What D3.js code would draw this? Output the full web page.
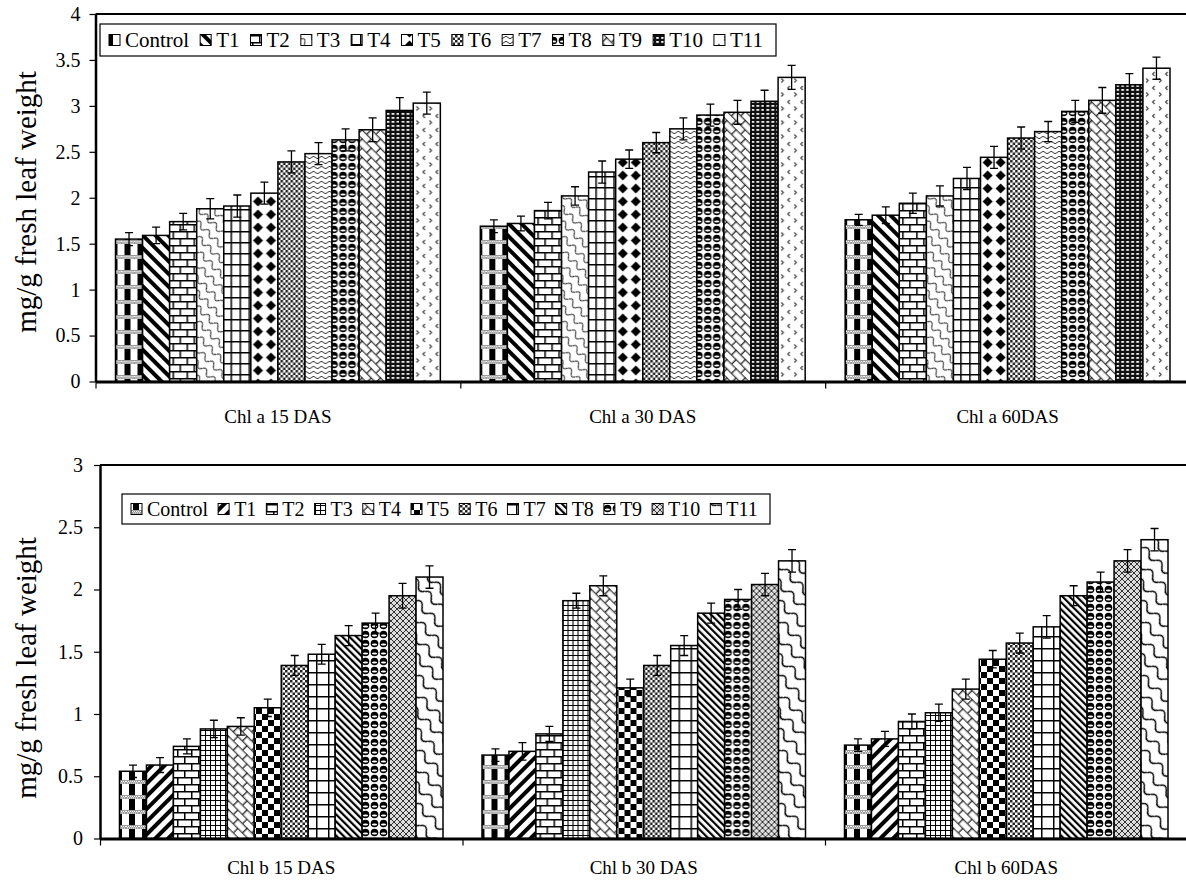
<!DOCTYPE html>
<html>
<head>
<meta charset="utf-8">
<script src="https://cdn.jsdelivr.net/npm/d3@7"></script>
<style>
    body { margin: 0; background: #fff; }
    svg text { font-family: "Liberation Serif", serif; fill: #000; }
</style>
</head>
<body>
<script>
// treatments (series) and groups
var treatments = ["Control", "T1", "T2", "T3", "T4", "T5", "T6", "T7", "T8", "T9", "T10", "T11"];

var chlaGroups = ["Chl a 15 DAS", "Chl a 30 DAS", "Chl a 60DAS"];
var chla15 = [1.55, 1.59, 1.74, 1.88, 1.91, 2.05, 2.39, 2.48, 2.63, 2.74, 2.95, 3.03];
var chla30 = [1.69, 1.72, 1.86, 2.02, 2.28, 2.42, 2.60, 2.75, 2.90, 2.93, 3.05, 3.31];
var chla60 = [1.76, 1.81, 1.94, 2.02, 2.21, 2.44, 2.65, 2.72, 2.94, 3.06, 3.23, 3.41];
var chla15Err = [0.07, 0.09, 0.09, 0.11, 0.12, 0.12, 0.12, 0.12, 0.12, 0.13, 0.14, 0.12];
var chla30Err = [0.07, 0.08, 0.09, 0.10, 0.12, 0.10, 0.11, 0.12, 0.12, 0.13, 0.12, 0.13];
var chla60Err = [0.06, 0.09, 0.11, 0.11, 0.12, 0.12, 0.12, 0.11, 0.12, 0.14, 0.12, 0.12];
var chlaTicks = [0, 0.5, 1, 1.5, 2, 2.5, 3, 3.5, 4];

var chlbGroups = ["Chl b 15 DAS", "Chl b 30 DAS", "Chl b 60DAS"];
var chlb15 = [0.54, 0.59, 0.74, 0.88, 0.90, 1.05, 1.39, 1.48, 1.63, 1.73, 1.95, 2.10];
var chlb30 = [0.67, 0.70, 0.84, 1.91, 2.03, 1.21, 1.39, 1.55, 1.81, 1.92, 2.04, 2.23];
var chlb60 = [0.75, 0.80, 0.94, 1.01, 1.20, 1.44, 1.57, 1.70, 1.95, 2.06, 2.23, 2.40];
var chlb15Err = [0.05, 0.06, 0.06, 0.07, 0.07, 0.07, 0.08, 0.08, 0.08, 0.08, 0.10, 0.09];
var chlb30Err = [0.05, 0.07, 0.06, 0.06, 0.08, 0.07, 0.08, 0.08, 0.08, 0.08, 0.09, 0.09];
var chlb60Err = [0.05, 0.06, 0.06, 0.07, 0.08, 0.07, 0.08, 0.09, 0.08, 0.08, 0.09, 0.09];
var chlbTicks = [0, 0.5, 1, 1.5, 2, 2.5, 3];

var yTitle = "mg/g fresh leaf weight";

// fill pattern per treatment
var chlaFills = ["plaid", "diagDown", "brick", "scales", "grid", "diamond", "checkSmall", "waves", "spheres", "trellis", "dotsDark", "confetti"];
var chlbFills = ["plaid", "diagUp", "brick", "gridFine", "trellis", "checker", "checkSmall", "gridLarge", "diagNarrow", "spheres", "crossFine", "scalesLarge"];

var FONT = "Liberation Serif, serif";

var svg = d3.select("body").append("svg")
    .attr("width", 1186)
    .attr("height", 881);

var defs = svg.append("defs");

function pattern(id, w, h, transform) {
    var p = defs.append("pattern")
        .attr("id", id)
        .attr("patternUnits", "userSpaceOnUse")
        .attr("width", w)
        .attr("height", h);
    if (transform) p.attr("patternTransform", transform);
    p.append("rect").attr("width", w).attr("height", h).attr("fill", "#fff");
    return p;
}

// --- patterns ---
var p;
p = pattern("plaid", 13, 15);
p.append("rect").attr("x", 3).attr("width", 6).attr("height", 15).attr("fill", "#000");
p.append("rect").attr("y", 0).attr("width", 13).attr("height", 4).attr("fill", "#9a9a9a");
for (var i = 0; i < 13; i += 2) {
    p.append("rect").attr("x", i).attr("y", 1).attr("width", 1).attr("height", 1).attr("fill", "#fff");
    p.append("rect").attr("x", i + 1).attr("y", 2.5).attr("width", 1).attr("height", 1).attr("fill", "#fff");
}

p = pattern("diagDown", 9, 9, "rotate(-45)");
p.append("rect").attr("width", 4).attr("height", 9).attr("fill", "#000");

p = pattern("diagUp", 9, 9, "rotate(45)");
p.append("rect").attr("width", 4).attr("height", 9).attr("fill", "#000");

p = pattern("diagNarrow", 5, 5, "rotate(-45)");
p.append("rect").attr("width", 2.2).attr("height", 5).attr("fill", "#000");

p = pattern("brick", 14, 14);
p.append("path").attr("d", "M0,0.75H14M0,7.75H14M0.75,0V7.75M7.75,7.75V14")
    .attr("stroke", "#000").attr("stroke-width", 1.5).attr("fill", "none");

p = pattern("trellis", 13, 13, "rotate(45)");
p.append("path").attr("d", "M0,0.75H13M0,7.25H13M0.75,0V7.25M7.25,7.25V13")
    .attr("stroke", "#111").attr("stroke-width", 1.2).attr("fill", "none");

p = pattern("scales", 12, 10, "rotate(45)");
p.append("path").attr("d", "M0,5Q3,0 6,5T12,5")
    .attr("stroke", "#222").attr("stroke-width", 1.1).attr("fill", "none");

p = pattern("scalesLarge", 18, 13, "rotate(45)");
p.append("path").attr("d", "M0,6.5Q4.5,0 9,6.5T18,6.5")
    .attr("stroke", "#000").attr("stroke-width", 1.4).attr("fill", "none");

p = pattern("grid", 9, 11);
p.append("path").attr("d", "M0,0.75H9M0.75,0V11")
    .attr("stroke", "#000").attr("stroke-width", 1.5).attr("fill", "none");

p = pattern("gridLarge", 12, 12);
p.append("path").attr("d", "M0,0.75H12M0.75,0V12")
    .attr("stroke", "#000").attr("stroke-width", 1.5).attr("fill", "none");

p = pattern("gridFine", 5, 5);
p.append("path").attr("d", "M0,0.5H5M0.5,0V5")
    .attr("stroke", "#000").attr("stroke-width", 1.1).attr("fill", "none");

p = pattern("diamond", 13, 13);
p.append("path").attr("d", "M6.5,1.5L11.5,6.5L6.5,11.5L1.5,6.5Z").attr("fill", "#000");

p = pattern("checkSmall", 5, 5);
p.append("rect").attr("width", 2.5).attr("height", 2.5).attr("fill", "#222");
p.append("rect").attr("x", 2.5).attr("y", 2.5).attr("width", 2.5).attr("height", 2.5).attr("fill", "#222");

p = pattern("checker", 12, 12);
p.append("rect").attr("width", 6).attr("height", 6).attr("fill", "#000");
p.append("rect").attr("x", 6).attr("y", 6).attr("width", 6).attr("height", 6).attr("fill", "#000");

p = pattern("waves", 8, 5);
p.append("path").attr("d", "M0,2.5Q2,0 4,2.5T8,2.5")
    .attr("stroke", "#333").attr("stroke-width", 1).attr("fill", "none");

p = pattern("spheres", 9, 9);
p.append("circle").attr("cx", 4.5).attr("cy", 4.5).attr("r", 3.8).attr("fill", "#000");
p.append("ellipse").attr("cx", 4.5).attr("cy", 5.6).attr("rx", 2.6).attr("ry", 1).attr("fill", "#fff");

p = pattern("dotsDark", 5, 4);
p.select("rect").attr("fill", "#111");
p.append("rect").attr("x", 1.2).attr("y", 1).attr("width", 2.6).attr("height", 1.8).attr("fill", "#fff");

p = pattern("confetti", 13, 14);
p.append("path").attr("d", "M4.5,2L2.5,4L4.5,6M9,8.5L11,10.5L9,12.5")
    .attr("stroke", "#444").attr("stroke-width", 1.2).attr("fill", "none");

p = pattern("crossFine", 6, 6);
p.select("rect").attr("fill", "#ddd");
p.append("path").attr("d", "M0,0L6,6M6,0L0,6")
    .attr("stroke", "#333").attr("stroke-width", 1).attr("fill", "none");

// --- charts ---
function drawChart(cfg) {
    var g = svg.append("g");

    var y = d3.scaleLinear()
        .domain([0, cfg.yMax])
        .range([cfg.bottom, cfg.top]);

    var xIdx = d3.scaleLinear()
        .domain([0, cfg.groups.length])
        .range([cfg.left, cfg.right]);

    var groupX = d3.scaleBand()
        .domain(cfg.groups)
        .range([cfg.left, cfg.right]);

    var gw = groupX.bandwidth();
    var inner = d3.scaleBand()
        .domain(treatments)
        .range([cfg.gap, gw - cfg.gap]);

    // plot frame top
    g.append("line")
        .attr("x1", cfg.left).attr("x2", 1190)
        .attr("y1", cfg.top).attr("y2", cfg.top)
        .attr("stroke", "#000").attr("stroke-width", 2);

    // bars
    cfg.groups.forEach(function (grp, gi) {
        var rows = treatments.map(function (t, i) {
            return {t: t, v: cfg.values[gi][i], e: cfg.errors[gi][i], fill: cfg.fills[i]};
        });
        var bg = g.append("g").attr("transform", "translate(" + groupX(grp) + ",0)");

        bg.selectAll("rect.bar")
            .data(rows)
            .enter().append("rect")
            .attr("class", "bar")
            .attr("x", function (d) { return inner(d.t); })
            .attr("y", function (d) { return y(d.v); })
            .attr("width", inner.bandwidth())
            .attr("height", function (d) { return y(0) - y(d.v); })
            .attr("fill", function (d) { return "url(#" + d.fill + ")"; })
            .attr("stroke", "#000")
            .attr("stroke-width", 1.5);

        bg.selectAll("path.err")
            .data(rows)
            .enter().append("path")
            .attr("class", "err")
            .attr("d", function (d) {
                var cx = inner(d.t) + inner.bandwidth() / 2;
                var y1 = y(d.v + d.e), y2 = y(d.v - d.e);
                return "M" + (cx - 4) + "," + y1 + "H" + (cx + 4)
                    + "M" + cx + "," + y1 + "V" + y2
                    + "M" + (cx - 4) + "," + y2 + "H" + (cx + 4);
            })
            .attr("stroke", "#000")
            .attr("stroke-width", 1.3)
            .attr("fill", "none");
    });

    // y axis
    var ya = g.append("g")
        .attr("transform", "translate(" + cfg.left + ",0)")
        .call(d3.axisLeft(y).tickValues(cfg.ticks).tickSize(6).tickSizeOuter(0)
            .tickFormat(function (d) { return d; }));
    ya.attr("font-family", FONT).attr("font-size", 20);
    ya.select(".domain").attr("stroke-width", 2.5);
    ya.selectAll(".tick line").attr("stroke-width", 1.2);
    ya.selectAll(".tick text")
        .attr("x", cfg.tickLabelX)
        .style("font-size", "20px");

    // x axis
    var xa = g.append("g")
        .attr("transform", "translate(0," + cfg.bottom + ")")
        .call(d3.axisBottom(xIdx).tickValues(d3.range(cfg.groups.length + 1))
            .tickSize(7).tickSizeOuter(0).tickFormat(""));
    xa.select(".domain").attr("stroke-width", 3);
    xa.selectAll(".tick line").attr("stroke-width", 1.2);

    g.selectAll("text.cat")
        .data(cfg.groups)
        .enter().append("text")
        .attr("class", "cat")
        .attr("x", function (d) { return groupX(d) + gw / 2; })
        .attr("y", cfg.labelY)
        .attr("text-anchor", "middle")
        .style("font-size", "19px")
        .text(function (d) { return d; });

    // y title
    g.append("text")
        .attr("transform", "translate(" + cfg.titleX + "," + cfg.titleY + ") rotate(-90)")
        .attr("text-anchor", "middle")
        .style("font-size", "29px")
        .text(yTitle);

    // legend
    var lg = g.append("g");
    lg.append("rect")
        .attr("x", cfg.legend.x).attr("y", cfg.legend.y)
        .attr("width", cfg.legend.w).attr("height", cfg.legend.h)
        .attr("fill", "#fff").attr("stroke", "#000").attr("stroke-width", 1.2);

    var lx = cfg.legend.x + 9;
    var ly = cfg.legend.y + cfg.legend.h / 2;
    treatments.forEach(function (t, i) {
        lg.append("rect")
            .attr("x", lx).attr("y", ly - 5.5)
            .attr("width", 11).attr("height", 11)
            .attr("fill", "url(#" + cfg.fills[i] + ")")
            .attr("stroke", "#000").attr("stroke-width", 1);
        var tx = lg.append("text")
            .attr("x", lx + 16).attr("y", ly)
            .attr("dy", "0.35em")
            .style("font-size", cfg.legend.font + "px")
            .text(t);
        lx += 16 + tx.node().getComputedTextLength() + cfg.legend.spacing;
    });
}

drawChart({
    groups: chlaGroups,
    values: [chla15, chla30, chla60],
    errors: [chla15Err, chla30Err, chla60Err],
    fills: chlaFills,
    ticks: chlaTicks,
    yMax: 4,
    left: 95.5, right: 1190, top: 14, bottom: 381.5,
    gap: 20,
    tickLabelX: -15,
    labelY: 423,
    titleX: 36, titleY: 202,
    legend: {x: 100, y: 24, w: 676, h: 32, font: 21, spacing: 11}
});

drawChart({
    groups: chlbGroups,
    values: [chlb15, chlb30, chlb60],
    errors: [chlb15Err, chlb30Err, chlb60Err],
    fills: chlbFills,
    ticks: chlbTicks,
    yMax: 3,
    left: 100, right: 1187.5, top: 465, bottom: 838.5,
    gap: 19.5,
    tickLabelX: -17,
    labelY: 874,
    titleX: 36, titleY: 668,
    legend: {x: 122, y: 494, w: 648, h: 30, font: 20, spacing: 10}
});
</script>
</body>
</html>
